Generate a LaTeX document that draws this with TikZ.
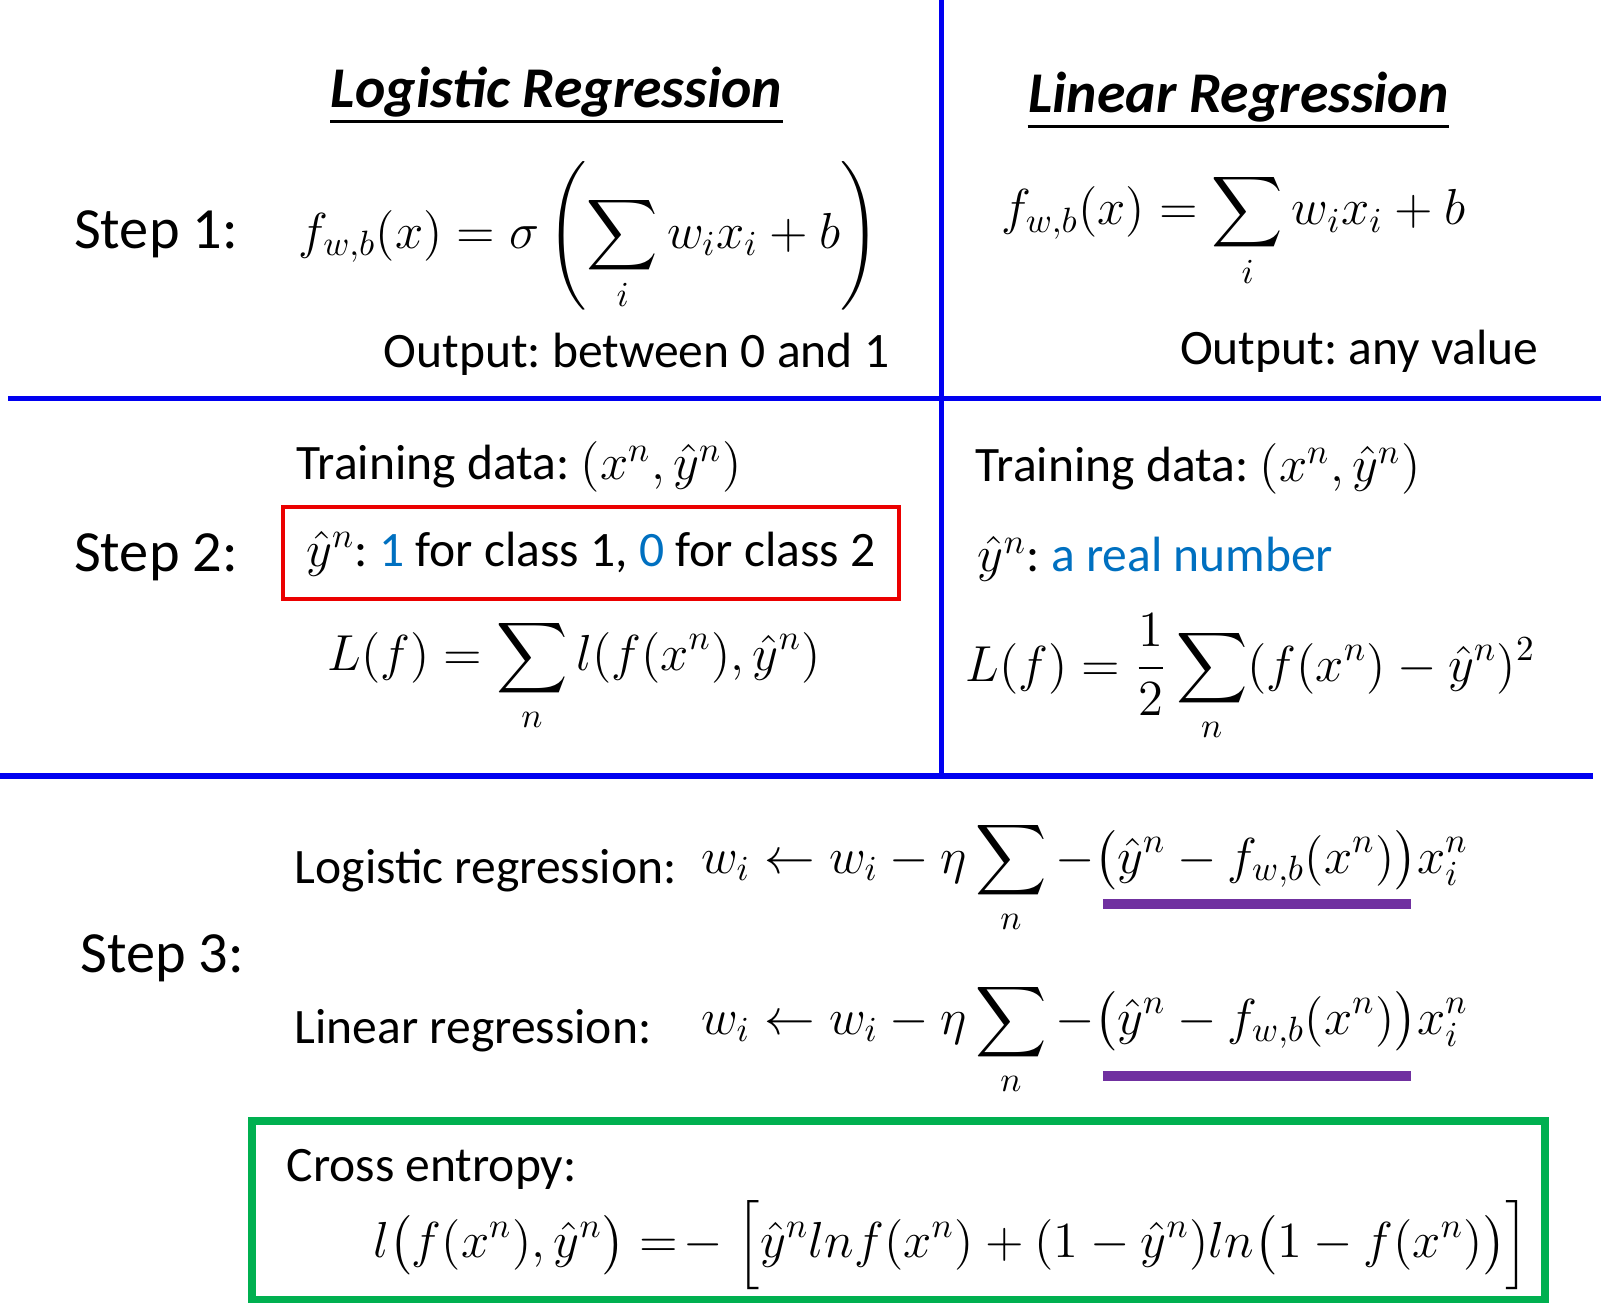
\documentclass[tikz,border=0pt]{standalone}
\usepackage{amsmath}
\usepackage{amssymb}
\usepackage{fontspec}
\setmainfont{Carlito}
\usepackage{tikz}
\definecolor{lineblue}{RGB}{0,0,240}
\definecolor{textblue}{RGB}{0,112,192}
\definecolor{boxred}{RGB}{235,0,0}
\definecolor{boxgreen}{RGB}{0,176,80}
\definecolor{barpurple}{RGB}{112,48,160}
\frenchspacing

\begin{document}
\begin{tikzpicture}[x=0.102105mm,y=-0.102105mm,
  every node/.style={font=\fontsize{14.1}{16.8}\selectfont, inner sep=0pt},
  txt/.style={anchor=base west},
  steplabel/.style={anchor=base west, font=\fontsize{16.6}{19.5}\selectfont},
  title/.style={anchor=base, font=\fontsize{16.4}{19.5}\selectfont\bfseries\itshape},
  divider/.style={draw=lineblue, line width=1.45pt},
  bar/.style={draw=barpurple, line width=2.8pt}]
\useasboundingbox (0,0) rectangle (1568,1276.1);

\draw[divider] (922,0) -- (922,760);
\draw[divider] (8,390) -- (1568,390);
\draw[divider] (0,760) -- (1560,760);

\node[title](titleL) at (545,105) {Logistic Regression};
\node[title](titleR) at (1213,110) {Linear Regression};
\draw[line width=0.9pt] ([yshift=-1.4mm]titleL.base west) -- ([yshift=-1.4mm]titleL.base east);
\draw[line width=0.9pt] ([yshift=-1.4mm]titleR.base west) -- ([yshift=-1.4mm]titleR.base east);

\node[steplabel](step1) at (72,243) {Step 1:};
\node[txt](f1L) at (292,243) {$\displaystyle f_{w,b}(x) = \sigma\left(\sum_i w_i x_i + b\right)$};
\node[txt](out1L) at (375,360) {Output: between 0 and 1};
\node[txt](f1R) at (980,220) {$\displaystyle f_{w,b}(x) = \sum_i w_i x_i + b$};
\node[txt](out1R) at (1155,357) {Output: any value};

\node[steplabel](step2) at (72,560) {Step 2:};
\node[txt](td2L) at (290,470) {Training data: $(x^n,\hat{y}^n)$};
\node[draw=boxred, line width=1.15pt, minimum width=6.16cm, minimum height=0.92cm](cls) at (578.5,542)
  {$\hat{y}^n$: {\color{textblue}1} for class 1, {\color{textblue}0} for class 2};
\node[txt](L2L) at (320,657) {$\displaystyle L(f) = \sum_n l(f(x^n),\hat{y}^n)$};
\node[txt](td2R) at (955,472) {Training data: $(x^n,\hat{y}^n)$};
\node[txt](real) at (957,560) {$\hat{y}^n$: {\color{textblue}a real number}};
\node[txt](L2R) at (945,667) {$\displaystyle L(f) = \frac{1}{2}\sum_n (f(x^n)-\hat{y}^n)^2$};

\node[steplabel](step3) at (78,952) {Step 3:};
\node[txt](lr3) at (288,865) {Logistic regression:};
\node[txt](upLog) at (686,855) {$\displaystyle w_i \leftarrow w_i - \eta \sum_n - \big(\hat{y}^n - f_{w,b}(x^n)\big)x_i^n$};
\node[txt](linr3) at (288,1022) {Linear regression:};
\node[txt](upLin) at (686,1013) {$\displaystyle w_i \leftarrow w_i - \eta \sum_n - \big(\hat{y}^n - f_{w,b}(x^n)\big)x_i^n$};
\draw[bar] (1080,885) -- (1382,885);
\draw[bar] (1080,1054) -- (1382,1054);

\draw[draw=boxgreen, line width=2.3pt] (247,1098) rectangle (1513,1273);
\node[txt](ce) at (280,1157) {Cross entropy:};
\node[txt](ceF) at (365,1232) {$\displaystyle l\big(f(x^n),\hat{y}^n\big) \mathrel{=\!-} \Big[\hat{y}^n ln f(x^n) + (1-\hat{y}^n) ln\big(1-f(x^n)\big)\Big]$};
\end{tikzpicture}
\end{document}
